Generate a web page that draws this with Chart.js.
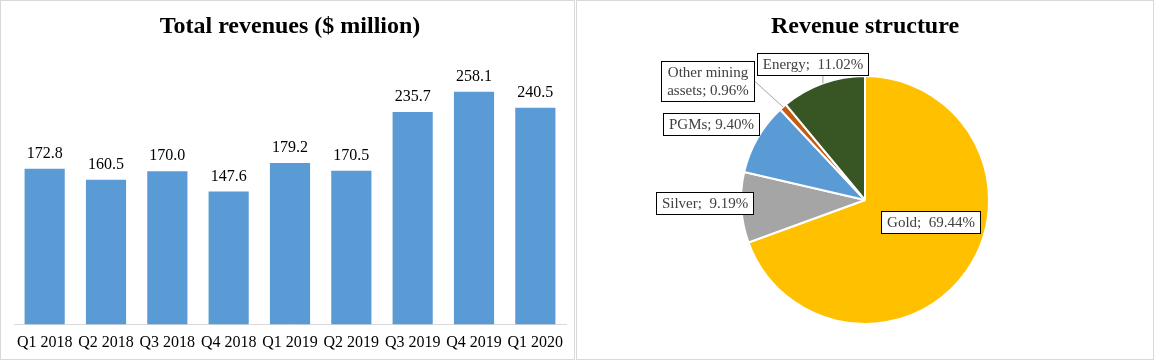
<!DOCTYPE html>
<html><head><meta charset="utf-8">
<script src="https://cdn.jsdelivr.net/npm/chart.js@4/dist/chart.umd.min.js"></script>
<style>
html,body{margin:0;padding:0;background:#fff;width:1154px;height:360px;overflow:hidden}
.panel{position:absolute;border:1px solid #D9D9D9;box-sizing:border-box}
canvas{position:absolute}
</style></head><body>
<div class="panel" style="left:0;top:0;width:575px;height:360px"></div>
<div class="panel" style="left:576px;top:0;width:578px;height:360px"></div>
<canvas id="bar" width="575" height="360" style="left:0;top:0"></canvas>
<canvas id="pie" width="578" height="360" style="left:576px;top:0"></canvas>
<script>
// ---- data ----
const quarters = ["Q1 2018","Q2 2018","Q3 2018","Q4 2018","Q1 2019","Q2 2019","Q3 2019","Q4 2019","Q1 2020"];
const revenues = [172.8,160.5,170.0,147.6,179.2,170.5,235.7,258.1,240.5];
const segments = ["Gold","Silver","PGMs","Other mining assets","Energy"];
const shares = [69.44,9.19,9.40,0.96,11.02];

// ---- styles ----
const SERIF = '"Liberation Serif","Times New Roman",serif';
const segColors = ["#FFC000","#A5A5A5","#5B9BD5","#C55A11","#375623"];
// label box centre offsets from pie centre (px), separators and wrap widths
const labelOffsets = [[65.5,22],[-160,3],[-153,-76],[-157,-118.5],[-51.5,-135.5]];
const labelSeps = [";  ",";  ","; ","; ",";  "];
const labelWrap = [0,0,0,90,0];

const barLabels = {
  id:'barLabels',
  afterDatasetsDraw(chart){
    const ctx = chart.ctx;
    const meta = chart.getDatasetMeta(0);
    ctx.save();
    ctx.font = '16px '+SERIF;
    ctx.fillStyle = '#000';
    ctx.textAlign = 'center';
    ctx.textBaseline = 'middle';
    meta.data.forEach((el,i)=>{
      ctx.fillText(chart.data.datasets[0].data[i].toFixed(1), el.x, el.y-15);
    });
    ctx.restore();
  }
};

new Chart(document.getElementById('bar'),{
  type:'bar',
  data:{labels:quarters,datasets:[{data:revenues,backgroundColor:'#5B9BD5',barPercentage:0.655,categoryPercentage:1}]},
  options:{
    responsive:false,animation:false,
    layout:{padding:{left:14,right:9,top:0,bottom:-0.6}},
    plugins:{
      legend:{display:false},tooltip:{enabled:false},
      title:{display:true,text:'Total revenues ($ million)',color:'#000',font:{family:SERIF,size:24,weight:'bold',lineHeight:1.2},padding:{top:12,bottom:13.2}}
    },
    scales:{
      x:{grid:{display:false,drawTicks:false},border:{display:true,color:'#D9D9D9',width:1},
         ticks:{color:'#000',font:{family:SERIF,size:16,lineHeight:1.2},padding:8.4,autoSkip:false,maxRotation:0,minRotation:0}},
      y:{display:false,min:0,max:300}
    }
  },
  plugins:[barLabels]
});

function wrapText(ctx,text,maxW){
  if(!maxW) return [text];
  const words = text.split(' ');
  const lines=[]; let cur='';
  words.forEach(w=>{
    const t = cur? cur+' '+w : w;
    if(cur && ctx.measureText(t).width>maxW){lines.push(cur);cur=w;} else cur=t;
  });
  if(cur) lines.push(cur);
  return lines;
}

const pieLabels = {
  id:'pieLabels',
  afterDatasetsDraw(chart){
    const ctx = chart.ctx;
    const meta = chart.getDatasetMeta(0);
    ctx.save();
    ctx.font = '15px '+SERIF;
    meta.data.forEach((arc,i)=>{
      const v = chart.data.datasets[0].data[i];
      const txt = chart.data.labels[i]+labelSeps[i]+v.toFixed(2)+'%';
      const lines = wrapText(ctx,txt,labelWrap[i]);
      const lh = 18;
      const w = Math.max(...lines.map(l=>ctx.measureText(l).width))+12;
      const h = lines.length*lh+5;
      const cx = arc.x+labelOffsets[i][0], cy = arc.y+labelOffsets[i][1];
      const x0 = Math.round(cx-w/2), y0 = Math.round(cy-h/2);
      const x1 = Math.round(x0+w), y1 = Math.round(y0+h);
      // leader line (only for labels placed outside the pie and away from their slice)
      const mid = (arc.startAngle+arc.endAngle)/2;
      const px = arc.x+Math.cos(mid)*arc.outerRadius, py = arc.y+Math.sin(mid)*arc.outerRadius;
      const near = px>=x0-6 && px<=x1+6 && py>=y0-6 && py<=y1+6;
      const inPie = Math.hypot(cx-arc.x,cy-arc.y) < arc.outerRadius;
      if(!near && !inPie){
        let ex,ey;
        if(px>x1){ex=x1;ey=(y0+y1)/2;}
        else if(px<x0){ex=x0;ey=(y0+y1)/2;}
        else if(py>y1){ex=px;ey=y1;}
        else {ex=px;ey=y0;}
        ctx.strokeStyle='#A6A6A6';ctx.lineWidth=1;
        ctx.beginPath();ctx.moveTo(px,py);ctx.lineTo(ex,ey);ctx.stroke();
      }
      ctx.fillStyle='#fff';
      ctx.fillRect(x0,y0,x1-x0,y1-y0);
      ctx.strokeStyle='#000';ctx.lineWidth=1;
      ctx.strokeRect(x0+0.5,y0+0.5,x1-x0-1,y1-y0-1);
      ctx.fillStyle='#404040';ctx.textAlign='center';ctx.textBaseline='middle';
      lines.forEach((l,k)=>{
        ctx.fillText(l,(x0+x1)/2,(y0+y1)/2+(k-(lines.length-1)/2)*lh+0.5);
      });
    });
    ctx.restore();
  }
};

new Chart(document.getElementById('pie'),{
  type:'pie',
  data:{labels:segments,datasets:[{data:shares,backgroundColor:segColors,borderColor:'#fff',borderWidth:2}]},
  options:{
    responsive:false,animation:false,
    layout:{padding:{left:164,right:164,top:0,bottom:35}},
    plugins:{
      legend:{display:false},tooltip:{enabled:false},
      title:{display:true,text:'Revenue structure',color:'#000',font:{family:SERIF,size:24,weight:'bold',lineHeight:1.2},padding:{top:12,bottom:34.2}}
    }
  },
  plugins:[pieLabels]
});
</script>
</body></html>
